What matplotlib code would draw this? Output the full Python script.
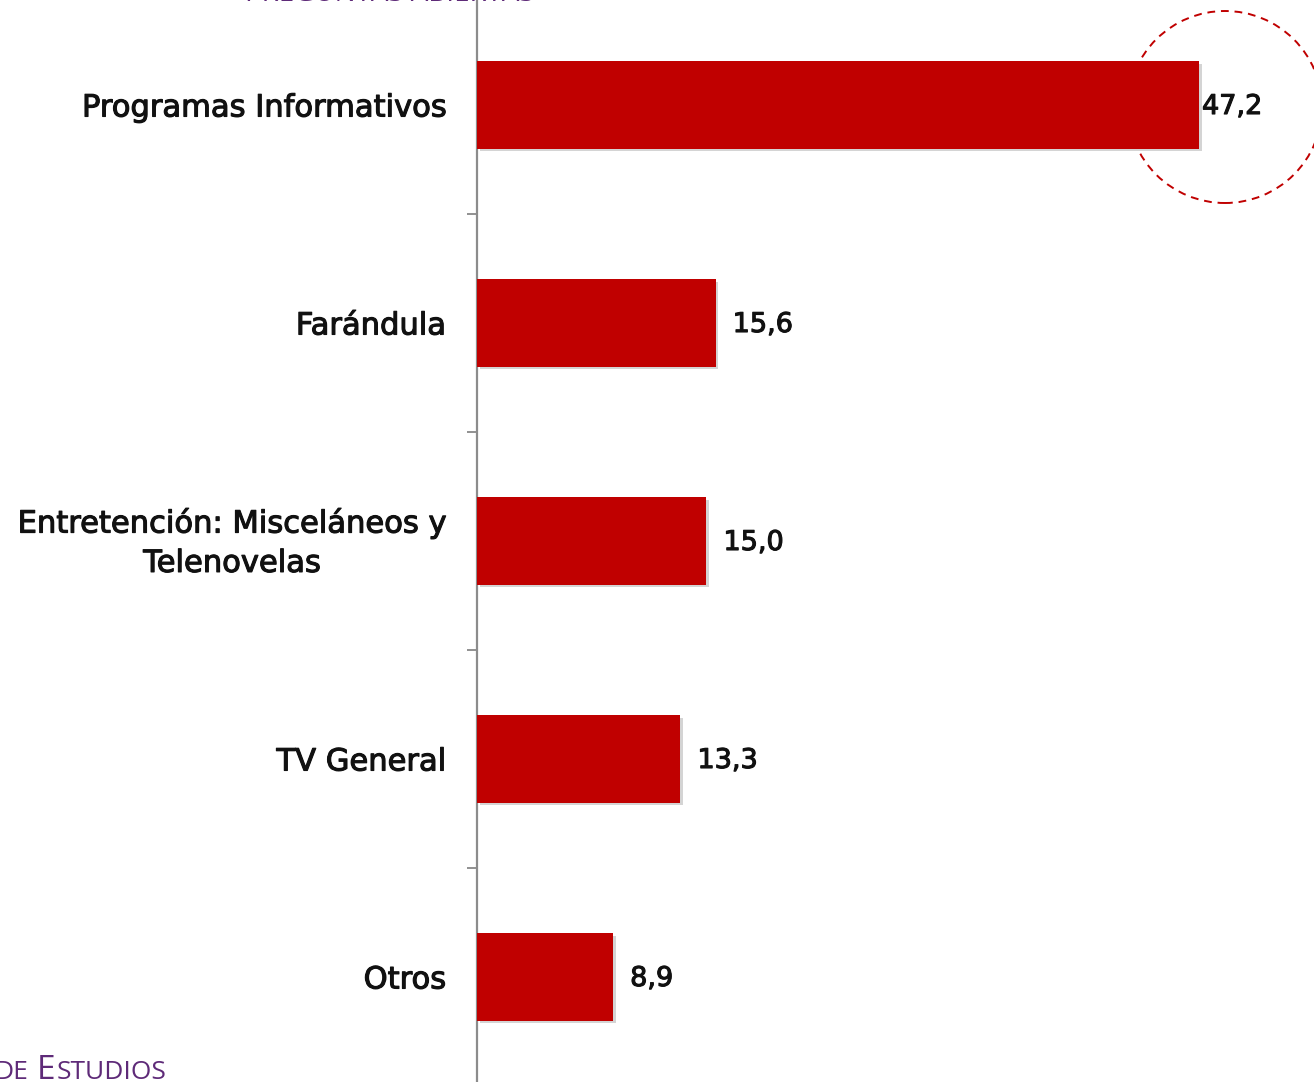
import matplotlib.pyplot as plt
from matplotlib.patches import Ellipse
import matplotlib.patheffects as pe

categories = ["Programas Informativos", "Farándula",
              "Entretención: Misceláneos y\nTelenovelas", "TV General", "Otros"]
values = [47.2, 15.6, 15.0, 13.3, 8.9]
value_labels = ["47,2", "15,6", "15,0", "13,3", "8,9"]

W, H = 1314, 1082
plt.rcParams['font.family'] = ['DejaVu Sans']
fig = plt.figure(figsize=(W / 100, H / 100), dpi=100)

px_per_unit = (1199 - 477) / 47.2
ax = fig.add_axes([477 / W, (H - 1086) / H, (W - 477) / W, 1090 / H])

bars = ax.barh(range(len(values)), values, height=0.4, color="#c00000", zorder=3)
for b in bars:
    b.set_path_effects([pe.SimplePatchShadow(offset=(2, -2), alpha=0.25, shadow_rgbFace="#555555"),
                        pe.Normal()])

ax.set_xlim(0, (W - 477) / px_per_unit)
ax.set_ylim(len(values) - 0.5, -0.5)

# slightly heavier strokes than the regular weight
heavy = [pe.withStroke(linewidth=0.8, foreground="#111111")]

for i, (v, lab) in enumerate(zip(values, value_labels)):
    off = 3 if i == 0 else 17
    ax.annotate(lab, (v, i), xytext=(off, -2), textcoords="offset pixels",
                ha="left", va="center", fontsize=19.5, color="#111111",
                path_effects=heavy)

# category labels drawn next to the axis
for i, cat in enumerate(categories):
    dy = -2 if "\n" in cat else -3
    ax.annotate(cat, (0, i), xycoords=("axes fraction", "data"), xytext=(-31, dy),
                textcoords="offset pixels", ha="right", va="center", multialignment="center",
                fontsize=22, color="#111111", linespacing=1.45, path_effects=heavy)

ax.set_yticks([i + 0.5 for i in range(len(values) - 1)])
ax.set_yticklabels([])
ax.tick_params(axis="y", length=7, width=1.3, color="#888888")
ax.set_xticks([])
for s in ["top", "right", "bottom"]:
    ax.spines[s].set_visible(False)
ax.spines["left"].set_color("#8c8c8c")
ax.spines["left"].set_linewidth(1.6)

# dashed highlight circle around the top value
fig.patches.append(Ellipse((1225 / W, 1 - 107 / H), 2 * 97 / W, 2 * 96 / H,
                           transform=fig.transFigure, fill=False, edgecolor="#c00000",
                           linestyle=(0, (4, 3)), linewidth=1.4))

purple = "#5e2a78"
# cut-off header and footer text (small caps look)
fig.text(245 / W, 1 - 8 / H, "PREGUNTAS ABIERTAS", fontsize=20, color=purple,
         family="Open Sans", ha="left", va="bottom")
fig.text(28 / W, 1 - 1079 / H, "DE", fontsize=19, color=purple, family="Open Sans",
         ha="right", va="baseline")
fig.text(37 / W, 1 - 1079 / H, "E", fontsize=24, color=purple, family="Open Sans",
         ha="left", va="baseline")
fig.text(57 / W, 1 - 1079 / H, "STUDIOS", fontsize=19, color=purple, family="Open Sans",
         ha="left", va="baseline")

fig.savefig("out.png", dpi=100)
